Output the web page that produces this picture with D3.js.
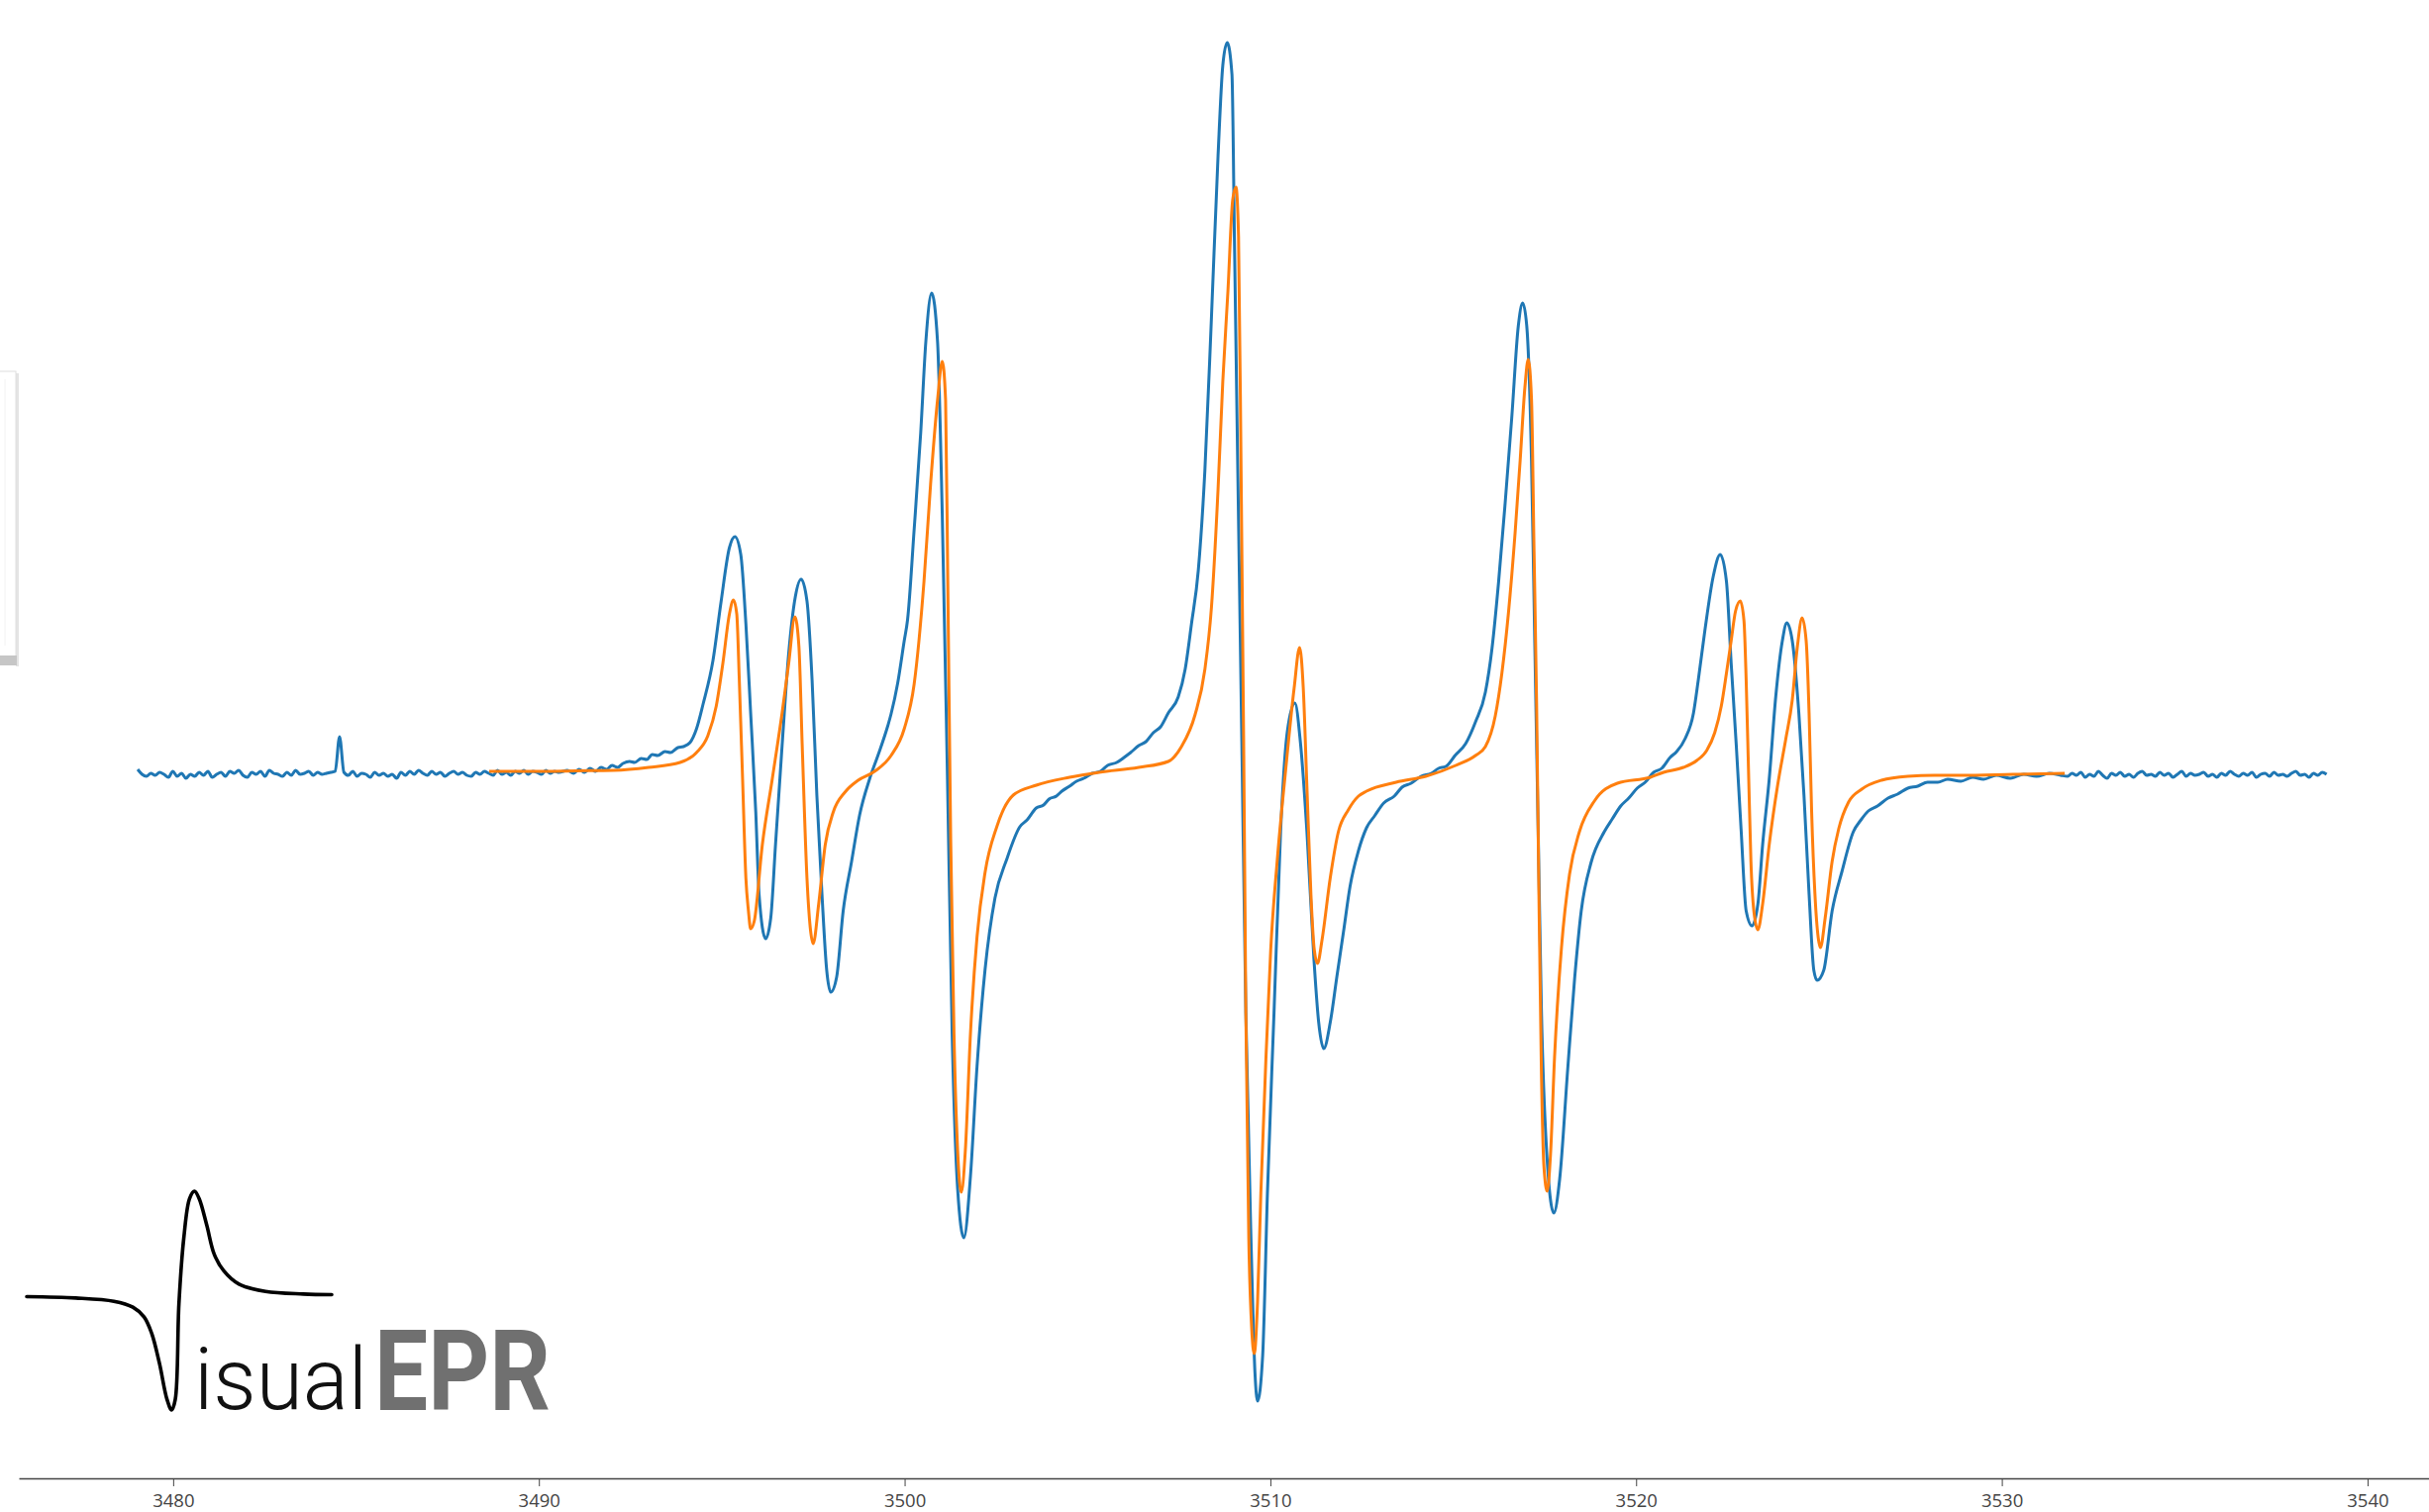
<!DOCTYPE html>
<html>
<head>
<meta charset="UTF-8">
<script src="https://cdn.jsdelivr.net/npm/d3@7"></script>
<style>
  * { margin: 0; padding: 0; box-sizing: border-box; }
  html, body { width: 2453px; height: 1527px; background: #fff; overflow: hidden; }
  svg { display: block; }
</style>
</head>
<body>
<svg id="chart" width="2453" height="1527"></svg>
<script>
// --- data (field in G, signal in a.u.) ---
var fieldTicks = [3480, 3490, 3500, 3510, 3520, 3530, 3540];

// experimental spectrum: noisy baseline on the left, sampled every 0.12 G
var expLeftStart = 3479.03;
var expStep = 0.12;
var expLeftNoise = [4,-1,-3,0,-2,1,-1,-4,2,-3, 0,-5,-1,-3,1,-2,2,-4,-1,1, -3,2,0,3,-2,-4,1,-1,2,-3,
  3,0,-1,-3,1,-2,3,-1,0,2, -2,1,-1,0,1,2,37,1,-2,2, -3,0,-1,-4,1,-2,0,-3,-1,-5,
  1,-2,2,-1,3,0,-2,2,-1,1, -3,0,2,-1,1,-2,-3,1,-1,2, 0,-2,3,-1,1,-2,2,0,3,-1, 2,1,-1,3,0,2,1];

// experimental spectrum: the seven lines
var expLines = [
  [3490.78,3],[3490.95,0],[3491.1,4],[3491.25,1],[3491.4,5],[3491.55,2],[3491.7,6],[3491.85,4],[3492.0,8],[3492.15,6],
  [3492.3,10],[3492.48,12],[3492.62,11],[3492.8,15],[3492.95,14],[3493.1,19],[3493.25,18],[3493.45,22],[3493.6,21],[3493.8,26],
  [3493.95,27],[3494.13,31],[3494.31,45],[3494.49,70],[3494.76,114],[3494.98,173],[3495.21,228],[3495.36,239],[3495.52,221],[3495.66,151],
  [3495.79,61],[3495.93,-39],[3496.02,-122],[3496.20,-167],[3496.34,-146],[3496.47,-72],[3496.65,28],[3496.83,121],[3497.01,178],[3497.17,196],
  [3497.33,174],[3497.47,94],[3497.60,-22],[3497.74,-122],[3497.87,-199],[3497.98,-221],[3498.14,-206],[3498.32,-139],[3498.55,-89],[3498.77,-42],
  [3499.04,-6],[3499.27,18],[3499.54,48],[3499.63,60],[3499.81,91],[3499.99,134],[3500.08,155],[3500.26,246],[3500.44,344],[3500.58,436],
  [3500.74,485],[3500.90,436],[3501.03,260],[3501.17,-2],[3501.30,-263],[3501.45,-420],[3501.62,-469],[3501.80,-407],[3501.98,-296],[3502.20,-198],
  [3502.47,-126],[3502.79,-87],[3503.15,-54],[3503.35,-47],[3503.6,-35],[3503.8,-32],[3503.95,-26],[3504.15,-23],[3504.3,-18],[3504.51,-13],
  [3504.7,-8],[3504.9,-5],[3505.13,0],[3505.35,2],[3505.55,8],[3505.8,11],[3506.0,16],[3506.18,21],[3506.4,28],[3506.6,32],
  [3506.8,41],[3507.0,47],[3507.21,61],[3507.48,77],[3507.67,105],[3507.84,150],[3508.03,205],[3508.21,306],[3508.39,461],[3508.57,624],
  [3508.70,715],[3508.82,738],[3508.95,706],[3509.02,533],[3509.11,305],[3509.22,32],[3509.33,-242],[3509.47,-470],[3509.58,-606],[3509.65,-634],
  [3509.79,-588],[3509.92,-424],[3510.10,-242],[3510.28,-59],[3510.46,41],[3510.67,71],[3510.82,32],[3511.00,-59],[3511.19,-187],[3511.32,-251],
  [3511.46,-278],[3511.64,-251],[3511.82,-205],[3512.00,-160],[3512.18,-114],[3512.41,-78],[3512.63,-55],[3512.85,-43],[3513.1,-30],[3513.39,-23],
  [3513.6,-14],[3513.85,-10],[3514.12,-3],[3514.4,0],[3514.6,5],[3514.80,7],[3515.05,18],[3515.34,30],[3515.61,52],[3515.88,82],
  [3516.06,126],[3516.24,193],[3516.42,273],[3516.60,359],[3516.78,452],[3516.90,475],[3517.01,452],[3517.14,316],[3517.23,132],[3517.32,-53],
  [3517.41,-237],[3517.55,-379],[3517.75,-444],[3517.91,-410],[3518.13,-299],[3518.32,-207],[3518.50,-139],[3518.77,-90],[3519.13,-59],[3519.35,-46],
  [3519.58,-33],[3519.8,-25],[3520.03,-15],[3520.25,-9],[3520.48,1],[3520.7,5],[3520.93,16],[3521.11,22],[3521.34,35],[3521.57,61],
  [3521.70,94],[3521.88,144],[3522.11,199],[3522.30,221],[3522.47,194],[3522.60,111],[3522.74,28],[3522.87,-56],[3523.01,-139],[3523.17,-154],
  [3523.33,-132],[3523.46,-72],[3523.64,-6],[3523.82,78],[3524.00,134],[3524.12,152],[3524.27,134],[3524.45,61],[3524.59,-22],[3524.73,-122],
  [3524.86,-199],[3524.95,-209],[3525.13,-199],[3525.36,-139],[3525.63,-99],[3525.94,-59],[3526.15,-47],[3526.35,-38],[3526.6,-33],[3526.89,-25],
  [3527.15,-21],[3527.43,-15],[3527.7,-13],[3527.97,-9],[3528.25,-9],[3528.52,-6],[3528.88,-8],[3529.2,-4],[3529.5,-6],[3529.85,-2],
  [3530.23,-5],[3530.6,-1],[3530.95,-3],[3531.3,0],[3531.61,-2]
];

// experimental spectrum: noisy baseline on the right
var expRightStart = 3531.8;
var expRightNoise = [-3,0,-2,1,-4,-1,-3,2,-2,-5, 0,-2,1,-3,-1,-4,0,2,-2,-1, -3,1,-2,0,-4,-1,2,-3,0,-2,
  -1,1,-3,-1,-4,0,-2,2,-1,-3, 0,-2,1,-4,-1,0,-3,1,-2,-1, -3,0,2,-2,-1,-4,0,-2,1,-1];

// simulated spectrum
var simulated = [
  [3488.64,2],[3490.0,2],[3491.0,2.5],[3492.05,3],[3493.0,6],[3493.86,11],[3494.31,21],[3494.62,38],[3494.85,68],[3495.03,111],
  [3495.21,161],[3495.32,175],[3495.41,161],[3495.48,94],[3495.57,-6],[3495.66,-106],[3495.73,-139],[3495.79,-157],[3495.89,-149],[3496.11,-72],
  [3496.38,-6],[3496.65,61],[3496.83,111],[3497.00,158],[3497.11,128],[3497.20,28],[3497.33,-106],[3497.42,-156],[3497.50,-172],[3497.65,-132],
  [3497.83,-72],[3498.05,-39],[3498.37,-19],[3498.73,-7],[3499.18,2],[3499.63,18],[3499.99,45],[3500.26,90],[3500.53,194],[3500.71,292],
  [3500.90,377],[3501.03,416],[3501.12,377],[3501.18,194],[3501.26,-67],[3501.35,-263],[3501.45,-381],[3501.55,-423],[3501.66,-381],[3501.80,-263],
  [3501.98,-165],[3502.20,-100],[3502.52,-54],[3502.97,-22],[3503.60,-12],[3504.51,-4],[3505.32,1],[3506.40,6],[3507.21,12],[3507.57,27],
  [3507.94,59],[3508.21,105],[3508.39,168],[3508.57,287],[3508.70,396],[3508.84,487],[3508.97,579],[3509.06,592],[3509.13,542],[3509.20,305],
  [3509.27,32],[3509.33,-242],[3509.41,-470],[3509.49,-561],[3509.56,-586],[3509.65,-534],[3509.74,-424],[3509.88,-287],[3510.01,-178],[3510.19,-87],
  [3510.42,4],[3510.65,86],[3510.80,127],[3510.90,86],[3511.00,-14],[3511.11,-123],[3511.20,-178],[3511.29,-192],[3511.41,-169],[3511.64,-105],
  [3511.86,-59],[3512.13,-37],[3512.41,-23],[3512.63,-18],[3513.44,-9],[3514.25,-3],[3515.07,8],[3515.61,18],[3515.88,27],[3516.15,58],
  [3516.33,101],[3516.51,162],[3516.69,242],[3516.83,316],[3516.96,390],[3517.05,418],[3517.14,378],[3517.21,224],[3517.28,70],[3517.34,-114],
  [3517.41,-299],[3517.48,-397],[3517.57,-422],[3517.66,-385],[3517.77,-287],[3517.96,-176],[3518.18,-102],[3518.45,-59],[3518.86,-28],[3519.49,-10],
  [3520.39,-4],[3520.75,1],[3521.29,6],[3521.66,13],[3521.93,23],[3522.15,41],[3522.33,68],[3522.47,101],[3522.60,134],[3522.72,164],
  [3522.85,174],[3522.95,154],[3523.01,94],[3523.08,-6],[3523.14,-89],[3523.22,-139],[3523.33,-158],[3523.46,-132],[3523.64,-72],[3523.87,-12],
  [3524.09,34],[3524.27,74],[3524.41,128],[3524.54,157],[3524.65,134],[3524.73,61],[3524.80,-39],[3524.89,-122],[3524.98,-166],[3525.04,-176],
  [3525.17,-146],[3525.36,-89],[3525.54,-56],[3525.81,-29],[3526.17,-16],[3526.71,-7],[3527.43,-3],[3528.15,-2],[3528.88,-2],[3530.3,-1],
  [3531.72,0]
];

// logo trace, in a unit box
var logoTrace = [
  [0,0.482],[0.161,0.488],[0.286,0.503],[0.348,0.530],[0.385,0.575],[0.410,0.651],[0.435,0.786],[0.460,0.952],[0.475,1.0],[0.487,0.952],
  [0.499,0.515],[0.515,0.214],[0.534,0.033],[0.550,0],[0.565,0.033],[0.590,0.154],[0.615,0.289],[0.646,0.364],[0.696,0.425],[0.783,0.458],
  [0.907,0.470],[1.0,0.473]
];

// --- assemble experimental series ---
var experimental = [];
expLeftNoise.forEach(function(v, i) { experimental.push([expLeftStart + i * expStep, v]); });
expLines.forEach(function(p) { experimental.push(p); });
expRightNoise.forEach(function(v, i) { experimental.push([expRightStart + i * expStep, v]); });

var svg = d3.select("#chart");

var x = d3.scaleLinear().domain([3475.78, 3541.68]).range([19, 2453]);
var y = d3.scaleLinear().domain([-760, 760]).range([1541, 21]);

// side panel remnant on the left edge
var panel = svg.append("g");
panel.append("rect").attr("x", 16).attr("y", 377).attr("width", 3).attr("height", 296).attr("fill", "#e4e4e4");
panel.append("rect").attr("x", -2).attr("y", 375).attr("width", 18).attr("height", 288)
  .attr("fill", "#fff").attr("stroke", "#dedede").attr("stroke-width", 1);
panel.append("line").attr("x1", 5).attr("x2", 5).attr("y1", 383).attr("y2", 652).attr("stroke", "#f2f2f2");
panel.append("rect").attr("x", 0).attr("y", 662).attr("width", 17).attr("height", 10).attr("fill", "#c6c6c6");

// axis
var axis = d3.axisBottom(x).tickValues(fieldTicks).tickSize(8).tickSizeOuter(0).tickPadding(8)
  .tickFormat(d3.format("d"));
var axG = svg.append("g").attr("transform", "translate(0,1493)").call(axis);
axG.select(".domain").attr("stroke", "#444").attr("stroke-width", 1.6);
axG.selectAll(".tick line").attr("stroke", "#444").attr("stroke-width", 1);
axG.selectAll(".tick text").attr("fill", "#444")
  .style("font-family", "'Open Sans', sans-serif").style("font-size", "18.5px");

// spectra
var line = d3.line()
  .x(function(d) { return x(d[0]); })
  .y(function(d) { return y(d[1]); })
  .curve(d3.curveMonotoneX);

svg.append("path").datum(experimental)
  .attr("fill", "none").attr("stroke", "#1f77b4").attr("stroke-width", 3)
  .attr("stroke-linejoin", "round").attr("d", line);

svg.append("path").datum(simulated)
  .attr("fill", "none").attr("stroke", "#ff7f0e").attr("stroke-width", 3)
  .attr("stroke-linejoin", "round").attr("d", line);

// logo
var lx = d3.scaleLinear().domain([0, 1]).range([27, 335]);
var ly = d3.scaleLinear().domain([0, 1]).range([1203, 1424]);
var logo = svg.append("g");
logo.append("path").datum(logoTrace)
  .attr("fill", "none").attr("stroke", "#000").attr("stroke-width", 3.6).attr("stroke-linecap", "round")
  .attr("d", d3.line().x(function(d) { return lx(d[0]); }).y(function(d) { return ly(d[1]); })
    .curve(d3.curveCatmullRom.alpha(0.5)));
logo.append("text").attr("x", 196).attr("y", 1423)
  .attr("textLength", 175).attr("lengthAdjust", "spacingAndGlyphs")
  .style("font-family", "Roboto, sans-serif").style("font-weight", 300).style("font-size", "88px")
  .attr("fill", "#111").text("isual");
logo.append("text").attr("x", 378).attr("y", 1424)
  .attr("textLength", 178).attr("lengthAdjust", "spacingAndGlyphs")
  .style("font-family", "Roboto, sans-serif").style("font-weight", 700).style("font-size", "113px")
  .attr("fill", "#707070").text("EPR");
</script>
</body>
</html>
